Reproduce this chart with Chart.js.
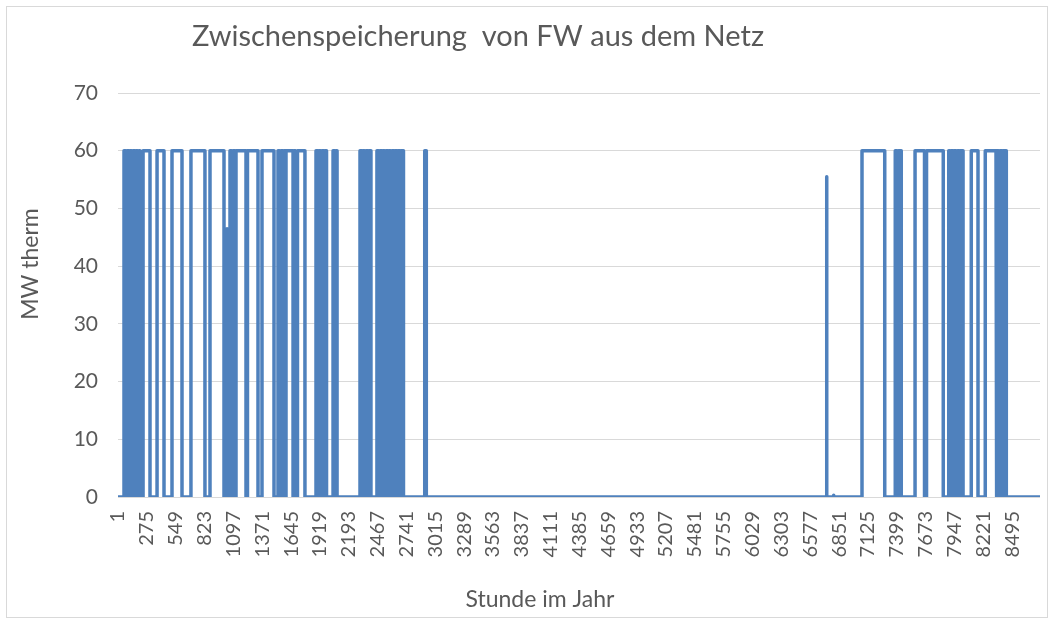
<!DOCTYPE html>
<html>
<head>
<meta charset="utf-8">
<script src="https://cdn.jsdelivr.net/npm/chart.js@4"></script>
<style>
  body { margin: 0; background: #fff; }
</style>
</head>
<body>
<canvas id="fwChart" width="1054" height="624"></canvas>
<script>
// Hours of the year where the store is charging (start / end of each block) and the level in MW
const onStart = [58, 87, 115, 144, 172, 201, 239, 372, 514, 694, 875, 1037, 1065, 1094, 1122, 1231, 1369,
  1521, 1550, 1578, 1597, 1678, 1706, 1882, 1910, 1939, 1967, 2044, 2072, 2300, 2328, 2357, 2385,
  2461, 2490, 2518, 2547, 2575, 2604, 2632, 2660, 2689, 2915,
  6734, 6800, 7069, 7385, 7416, 7573, 7682, 7893, 7919, 7948, 7977, 8005, 8107, 8240, 8351, 8380, 8408];
const onEnd = [72, 101, 129, 158, 186, 210, 305, 438, 609, 827, 1008, 1037, 1079, 1108, 1217, 1331, 1483,
  1535, 1564, 1588, 1664, 1687, 1777, 1896, 1924, 1953, 1982, 2058, 2082, 2314, 2342, 2371, 2404,
  2475, 2504, 2532, 2561, 2589, 2618, 2646, 2675, 2713, 2930,
  6734, 6800, 7285, 7401, 7442, 7663, 7841, 7905, 7934, 7962, 7991, 8029, 8171, 8342, 8365, 8394, 8440];
const level = [60, 60, 60, 60, 60, 60, 60, 60, 60, 60, 60, 46.5, 60, 60, 60, 60, 60,
  60, 60, 60, 60, 60, 60, 60, 60, 60, 60, 60, 60, 60, 60, 60, 60,
  60, 60, 60, 60, 60, 60, 60, 60, 60, 60,
  55.5, 0.3, 60, 60, 60, 60, 60, 60, 60, 60, 60, 60, 60, 60, 60, 60, 60];

const firstHour = 1;
const lastHour = 8760;
const xTicks = [1, 275, 549, 823, 1097, 1371, 1645, 1919, 2193, 2467, 2741, 3015, 3289, 3563, 3837, 4111,
  4385, 4659, 4933, 5207, 5481, 5755, 6029, 6303, 6577, 6851, 7125, 7399, 7673, 7947, 8221, 8495];
const yTicks = [0, 10, 20, 30, 40, 50, 60, 70];

const chartTitle = 'Zwischenspeicherung  von FW aus dem Netz';
const xTitle = 'Stunde im Jahr';
const yTitle = 'MW therm';

// Build the step line: each block goes up, stays, and comes back down to 0
const points = [{ x: firstHour, y: 0 }];
onStart.forEach((s, i) => {
    points.push({ x: s, y: 0 }, { x: s, y: level[i] }, { x: onEnd[i], y: level[i] }, { x: onEnd[i], y: 0 });
});
points.push({ x: lastHour, y: 0 });

const textColor = '#595959';

// Background, frame and the titles (placed like in the Excel original)
const framePlugin = {
    id: 'frame',
    beforeDraw(chart) {
        const c = chart.ctx;
        c.save();
        c.fillStyle = '#ffffff';
        c.fillRect(0, 0, chart.width, chart.height);
        c.strokeStyle = '#d9d9d9';
        c.lineWidth = 1;
        c.strokeRect(6.5, 6.5, 1041, 611);
        c.restore();
    },
    afterDraw(chart) {
        const c = chart.ctx;
        c.save();
        c.fillStyle = textColor;
        c.textAlign = 'center';
        c.textBaseline = 'middle';
        c.font = '29px Lato';
        c.fillText(chartTitle, 478, 37);
        c.font = '23px Lato';
        c.fillText(xTitle, 540, 600);
        c.translate(31, 264);
        c.rotate(-Math.PI / 2);
        c.fillText(yTitle, 0, 0);
        c.restore();
    }
};

const ctx = document.getElementById('fwChart').getContext('2d');
new Chart(ctx, {
    type: 'line',
    data: {
        datasets: [{
            data: points,
            borderColor: '#4f81bd',
            borderWidth: 3.5,
            borderJoinStyle: 'round',
            borderCapStyle: 'round',
            pointRadius: 0,
            tension: 0,
            fill: false
        }]
    },
    options: {
        responsive: false,
        animation: false,
        layout: { padding: { top: 93, right: 14, bottom: 0, left: 0 } },
        plugins: {
            legend: { display: false },
            tooltip: { enabled: false }
        },
        scales: {
            x: {
                type: 'linear',
                min: firstHour,
                max: lastHour,
                afterBuildTicks: axis => { axis.ticks = xTicks.map(v => ({ value: v })); },
                afterFit: axis => { axis.height = 127; },
                grid: { display: false, drawTicks: false },
                border: { display: false },
                ticks: {
                    autoSkip: false,
                    minRotation: 90,
                    maxRotation: 90,
                    padding: 14,
                    color: textColor,
                    font: { family: 'Lato', size: 20 },
                    callback: v => String(v)
                }
            },
            y: {
                min: yTicks[0],
                max: yTicks[yTicks.length - 1],
                afterBuildTicks: axis => { axis.ticks = yTicks.map(v => ({ value: v })); },
                afterFit: axis => { axis.width = 118; },
                grid: { color: '#d9d9d9', lineWidth: 1, drawTicks: false },
                border: { display: false },
                ticks: {
                    padding: 20,
                    color: textColor,
                    font: { family: 'Lato', size: 21 }
                }
            }
        }
    },
    plugins: [framePlugin]
});
</script>
</body>
</html>
